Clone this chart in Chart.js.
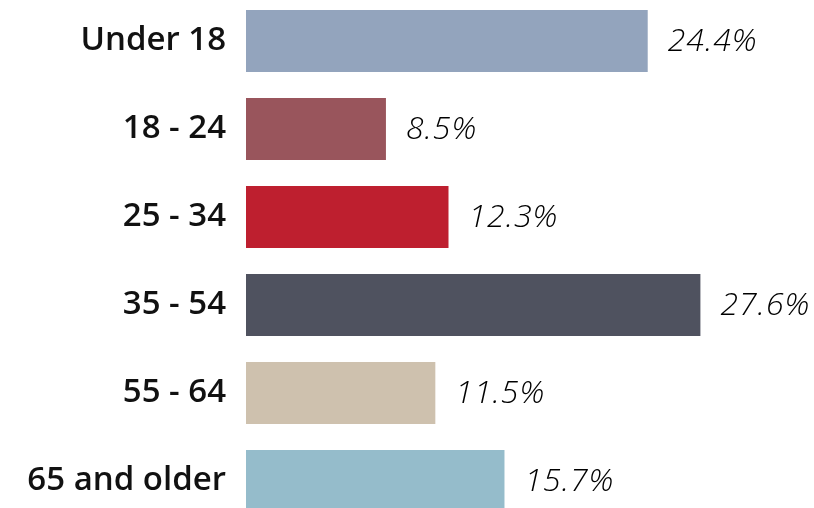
<!DOCTYPE html>
<html>
<head>
<meta charset="utf-8">
<script src="https://cdn.jsdelivr.net/npm/chart.js@4"></script>
<style>
	html, body { margin: 0; padding: 0; background: #fff; overflow: hidden; }
	#wrap { position: absolute; left: 0; top: -3px; width: 814px; height: 528px; }
</style>
</head>
<body>
<div id="wrap"><canvas id="ageChart" width="814" height="528"></canvas></div>
<script>
const ageGroups = ["Under 18", "18 - 24", "25 - 34", "35 - 54", "55 - 64", "65 and older"];
const shares = [24.4, 8.5, 12.3, 27.6, 11.5, 15.7];
const barColors = ["#93a4bd", "#99555c", "#be1f2f", "#4f525f", "#cec1ae", "#95bccb"];

// writes the percentage just past the end of each bar
const valueLabels = {
	id: "valueLabels",
	afterDatasetsDraw(chart) {
		const ctx = chart.ctx;
		const meta = chart.getDatasetMeta(0);
		ctx.save();
		ctx.font = "italic 300 32px 'Open Sans'";
		ctx.letterSpacing = "1px";
		ctx.fillStyle = "#000";
		ctx.textAlign = "left";
		ctx.textBaseline = "middle";
		meta.data.forEach((bar, i) => {
			ctx.fillText(shares[i].toFixed(1) + "%", bar.x + 20, bar.y + 1);
		});
		ctx.restore();
	},
};

new Chart(document.getElementById("ageChart").getContext("2d"), {
	type: "bar",
	data: {
		labels: ageGroups,
		datasets: [
			{
				data: shares,
				backgroundColor: barColors,
				borderWidth: 0,
				categoryPercentage: 1,
				barPercentage: 0.705,
			},
		],
	},
	options: {
		indexAxis: "y",
		responsive: false,
		animation: false,
		layout: { padding: 0 },
		scales: {
			x: {
				display: false,
				min: 0,
				max: 34.5,
			},
			y: {
				grid: { display: false },
				border: { display: false },
				ticks: {
					color: "#111",
					font: { family: "Open Sans", size: 33, weight: "600" },
					padding: 12,
					autoSkip: false,
				},
				afterFit(axis) {
					axis.width = 246;
					axis.paddingTop = 0;
					axis.paddingBottom = 0;
				},
			},
		},
		plugins: {
			legend: { display: false },
			tooltip: { enabled: false },
		},
	},
	plugins: [valueLabels],
});
</script>
</body>
</html>
